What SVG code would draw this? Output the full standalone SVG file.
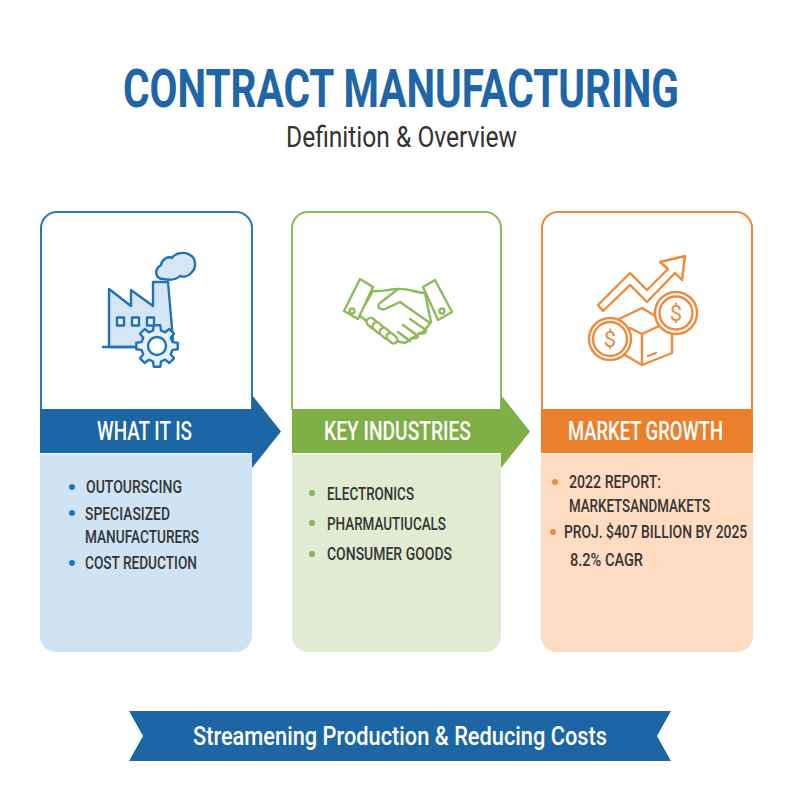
<svg xmlns="http://www.w3.org/2000/svg" width="800" height="800" viewBox="0 0 800 800">
<style>
.t{font-family:"Roboto","Liberation Sans",sans-serif}
.h{font-family:"Roboto","Liberation Sans",sans-serif;font-weight:500;font-size:26px;fill:#fff}
.b{font-family:"Roboto","Liberation Sans",sans-serif;font-weight:500;font-size:19px;fill:#353535}
.ib{stroke:#2273b5;stroke-width:2.4;fill:none;stroke-linejoin:round;stroke-linecap:round}
.ig{stroke:#8cbb5c;stroke-width:2.4;fill:#fff;stroke-linejoin:round;stroke-linecap:round}
.io{stroke:#ee8a3c;stroke-width:2.4;fill:#fff;stroke-linejoin:round;stroke-linecap:round}
.n{fill:none}
</style>
<rect width="800" height="800" fill="#fff"/>
<g id="title">
<text class="t" transform="translate(123 106.500) scale(.8 1)" font-size="54" font-weight="700" fill="#1e66a8" textLength="695" lengthAdjust="spacingAndGlyphs">CONTRACT MANUFACTURING</text>
<text class="t" x="286" y="147" font-size="29" fill="#333" textLength="231" lengthAdjust="spacingAndGlyphs">Definition &amp; Overview</text>
</g>
<g id="card-what">
<path d="M41 410V228a16 16 0 0 1 16-16H236a16 16 0 0 1 16 16V410" fill="#fff" stroke="#2a78b8" stroke-width="2"/>
<path d="M40 454H252V636a16 16 0 0 1-16 16H56a16 16 0 0 1-16-16Z" fill="#cfe3f3"/>
<path d="M40 409H252V395L281 431.500 252 468V453H40Z" fill="#1c66a6"/>
<text class="h" x="97" y="440" textLength="95" lengthAdjust="spacingAndGlyphs">WHAT IT IS</text>
<g id="factory">
<path d="M109 347V289L131 306V290L153 306V282H168L173 340L150 347Z" class="ib" style="fill:#d6e6f4"/>
<path d="M103 347H134" class="ib"/>
<rect x="117" y="317.500" width="7" height="8" class="ib" style="fill:#eef5fb"/>
<rect x="132" y="317.500" width="7" height="8" class="ib" style="fill:#eef5fb"/>
<rect x="147" y="317.500" width="7" height="8" class="ib" style="fill:#eef5fb"/>
<path d="M163 279C156 279 153 270 161 265C162 259 168 256 172 258C175 253 185 251 190 255C196 258 197 268 191 273C188 277 183 277 180 276C176 280 168 280 163 279Z" class="ib" style="fill:#d6e6f4"/>
<g transform="translate(157 346)">
<path d="M-3.900-15.500L-3.300-20.700H3.300L3.900-15.500L8.200-13.700L12.300-17L17-12.300L13.700-8.200L15.500-3.900L20.700-3.300V3.300L15.500 3.900L13.700 8.200L17 12.300L12.300 17L8.200 13.700L3.900 15.500L3.300 20.700H-3.300L-3.900 15.500L-8.200 13.700L-12.300 17L-17 12.300L-13.700 8.200L-15.500 3.900L-20.700 3.300V-3.300L-15.500-3.900L-13.700-8.200L-17-12.300L-12.300-17L-8.200-13.700Z" class="ib" style="fill:#e6f0f9"/>
<circle r="9" class="ib" style="fill:#fff"/>
</g>
</g>
</g>
<g id="card-key">
<path d="M292 410V228a16 16 0 0 1 16-16H485a16 16 0 0 1 16 16V410" fill="#fff" stroke="#8cbb5c" stroke-width="2"/>
<path d="M292 454H501V636a16 16 0 0 1-16 16H308a16 16 0 0 1-16-16Z" fill="#e0ebd2"/>
<path d="M292 409H501V395L530 431.500 501 468V453H292Z" fill="#7fb048"/>
<text class="h" x="324" y="440" textLength="147" lengthAdjust="spacingAndGlyphs">KEY INDUSTRIES</text>
<g id="handshake">
<path d="M373 291C382 292 390 289 398 289C408 288 416 293 425 293L431 322L424 331L414 337L405 343L396 341L380 332L359 315Z" class="ig"/>
<path d="M398 289L380 303C377 306 378 309 384 309.500L400 302L430 323" class="ig n"/>
<path d="M410 319L426 330Q426 335 419 333M403 325L418 336Q418 339 411 338M398 332L410 341" class="ig n"/>
<rect x="366" y="319.500" width="13" height="8" rx="4" transform="rotate(42 372.500 323.500)" class="ig"/>
<rect x="372" y="324" width="13" height="8" rx="4" transform="rotate(42 378.500 328)" class="ig"/>
<rect x="379" y="329.500" width="13" height="8" rx="4" transform="rotate(42 385.500 333.500)" class="ig"/>
<rect x="386" y="334.500" width="12" height="7.500" rx="3.700" transform="rotate(42 392 338)" class="ig"/>
<path d="M360 279L373 287L358 319L344 311Z" class="ig"/>
<path d="M435 280L423 287L438 320L452 312Z" class="ig"/>
<circle cx="352" cy="311" r="2.500" class="ig"/>
<circle cx="442" cy="311" r="2.500" class="ig"/>
</g>
</g>
<g id="card-growth">
<path d="M542 410V228a16 16 0 0 1 16-16H736a16 16 0 0 1 16 16V410" fill="#fff" stroke="#ee8a3c" stroke-width="2"/>
<path d="M541 454H753V636a16 16 0 0 1-16 16H557a16 16 0 0 1-16-16Z" fill="#fddcc1"/>
<rect x="541" y="409" width="212" height="44" fill="#ec7f2c"/>
<text class="h" x="568" y="440" textLength="155" lengthAdjust="spacingAndGlyphs">MARKET GROWTH</text>
<g id="growth-icon">
<path d="M598 305L630 273L647 290L668 269L660 262L685 256L682 280L675 273L647 302L630 285L603 311Z" class="io"/>
<path d="M617 320L642 308L657 317L672 325V353L642 365L618 351V330Z" class="io"/>
<path d="M630 328L642 334L672 320M642 334V365M648 356L656 353" class="io n"/>
<circle cx="676" cy="313" r="21" class="io"/><circle cx="676" cy="313" r="16.500" class="io"/>
<circle cx="610" cy="339" r="21" class="io"/><circle cx="610" cy="339" r="17" class="io"/>
<text x="676" y="321" text-anchor="middle" class="t" font-size="22" fill="#ee8a3c">$</text>
<text x="610" y="347" text-anchor="middle" class="t" font-size="22" fill="#ee8a3c">$</text>
</g>
</g>
<g id="list-what">
<circle cx="72" cy="487" r="3" fill="#1f78c1"/><circle cx="72" cy="513" r="3" fill="#1f78c1"/><circle cx="72" cy="563" r="3" fill="#1f78c1"/>
<text class="b" x="86" y="493" textLength="96" lengthAdjust="spacingAndGlyphs">OUTOURSCING</text>
<text class="b" x="85" y="520" textLength="85" lengthAdjust="spacingAndGlyphs">SPECIASIZED</text>
<text class="b" x="85" y="543" textLength="114" lengthAdjust="spacingAndGlyphs">MANUFACTURERS</text>
<text class="b" x="85" y="569" textLength="112" lengthAdjust="spacingAndGlyphs">COST REDUCTION</text>
</g>
<g id="list-key">
<circle cx="312" cy="493" r="3" fill="#86b653"/><circle cx="312" cy="523" r="3" fill="#86b653"/><circle cx="312" cy="554" r="3" fill="#86b653"/>
<text class="b" x="327" y="500" textLength="87" lengthAdjust="spacingAndGlyphs">ELECTRONICS</text>
<text class="b" x="327" y="530" textLength="119" lengthAdjust="spacingAndGlyphs">PHARMAUTIUCALS</text>
<text class="b" x="327" y="560" textLength="125" lengthAdjust="spacingAndGlyphs">CONSUMER GOODS</text>
</g>
<g id="list-growth">
<circle cx="555" cy="482" r="3" fill="#ee8a3c"/><circle cx="553" cy="532" r="3" fill="#ee8a3c"/>
<text class="b" x="569" y="488" textLength="92" lengthAdjust="spacingAndGlyphs">2022 REPORT:</text>
<text class="b" x="569" y="512" textLength="141" lengthAdjust="spacingAndGlyphs">MARKETSANDMAKETS</text>
<text class="b" transform="translate(564 538) scale(.73 1)" textLength="251" lengthAdjust="spacingAndGlyphs">PROJ. $407 BILLION BY 2025</text>
<text class="b" x="570" y="566" textLength="73" lengthAdjust="spacingAndGlyphs">8.2% CAGR</text>
</g>
<g id="banner">
<path d="M129 711H671L657 736 671 761H129L143 736Z" fill="#1c66a6"/>
<text class="t" x="193" y="745" font-size="26" font-weight="500" fill="#fff" textLength="414" lengthAdjust="spacingAndGlyphs">Streamening Production &amp; Reducing Costs</text>
</g>
</svg>
